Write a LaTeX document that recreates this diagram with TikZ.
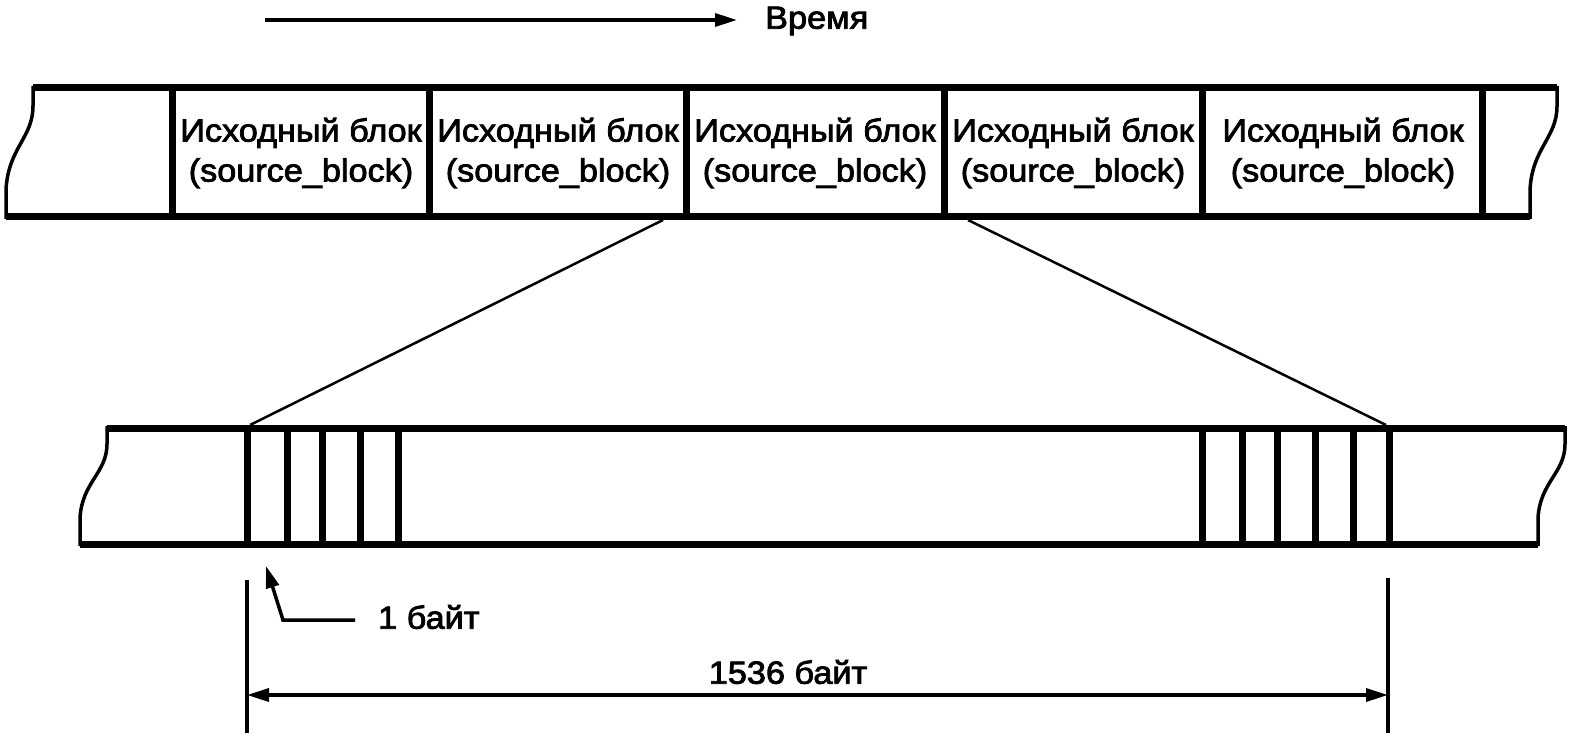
\documentclass[tikz,border=0pt]{standalone}
\usepackage{fontspec}
\setmainfont{Liberation Sans}
\newfontfamily\lblfont[FakeBold=2.5,FakeStretch=1.07]{Liberation Sans}
\usetikzlibrary{arrows.meta}
\begin{document}
\begin{tikzpicture}[x=1pt,y=-1pt,
  thickbar/.style={line width=7pt},
  wave/.style={line width=3.5pt, line join=round},
  thinline/.style={line width=2.5pt},
  dimline/.style={line width=3.5pt},
  lbl/.style={font=\lblfont\fontsize{32}{40}\selectfont, inner sep=0pt, align=center},
  tipend/.style={-{Triangle[length=22pt,width=13pt]}},
  tipboth/.style={{Triangle[length=22pt,width=13pt]}-{Triangle[length=22pt,width=13pt]}}]
\useasboundingbox (0,0) rectangle (1571,738);
% time arrow
\node[lbl, anchor=west] (time) at (765,21) {Время};
\coordinate (ts) at (265,20);
\draw[dimline, tipend, shorten >=28pt] (ts) -- (time.west |- ts);
% top bar
\draw[thickbar] (33,88) -- (1557,88);
\draw[thickbar] (6,217) -- (1530,217);
\draw[wave] (33,86) -- (33,106) .. controls (33,138) and (8,148) .. (6,190) -- (6,219);
\draw[wave] (1557,86) -- (1557,106) .. controls (1557,138) and (1532,148) .. (1530,190) -- (1530,219);
\foreach \x in {172,429,686,944,1202,1482} \draw[thickbar] (\x,88) -- (\x,217);
\node[lbl] (b1) at (301,153) {Исходный блок\\(source\_block)};
\node[lbl] (b2) at (558,153) {Исходный блок\\(source\_block)};
\node[lbl] (b3) at (815,153) {Исходный блок\\(source\_block)};
\node[lbl] (b4) at (1073,153) {Исходный блок\\(source\_block)};
\node[lbl] (b5) at (1343,153) {Исходный блок\\(source\_block)};
% bottom bar
\draw[thickbar] (107,428) -- (1565,428);
\draw[thickbar] (80,544) -- (1538,544);
\draw[wave] (107,426) -- (107,444) .. controls (107,473) and (82,482) .. (80,518) -- (80,546);
\draw[wave] (1565,426) -- (1565,444) .. controls (1565,473) and (1540,482) .. (1538,518) -- (1538,546);
\foreach \x in {247,287,322,360,398,1202,1242,1277,1315,1353,1389} \draw[thickbar] (\x,428) -- (\x,544);
% zoom lines
\coordinate (zl1) at (663,220);
\coordinate (zl2) at (250,425);
\coordinate (zr1) at (968,220);
\coordinate (zr2) at (1386,425);
\draw[thinline] (zl1) -- (zl2);
\draw[thinline] (zr1) -- (zr2);
% 1 byte
\node[lbl, anchor=west] (ob) at (378,617) {1 байт};
\coordinate (elb) at (283,620);
\coordinate (obt) at (266,566);
\draw[dimline, tipend, shorten <=23pt] (ob.west |- elb) -- (elb) -- (obt);
% dimension
\coordinate (dl1) at (247,580);
\coordinate (dl2) at (247,733);
\coordinate (dr1) at (1388,578);
\coordinate (dr2) at (1388,733);
\draw[dimline] (dl1) -- (dl2);
\draw[dimline] (dr1) -- (dr2);
\coordinate (al) at (247,695);
\coordinate (ar) at (1388,695);
\draw[dimline, tipboth] (al) -- (ar);
\node[lbl] (dim) at (788,672) {1536 байт};
\end{tikzpicture}
\end{document}
